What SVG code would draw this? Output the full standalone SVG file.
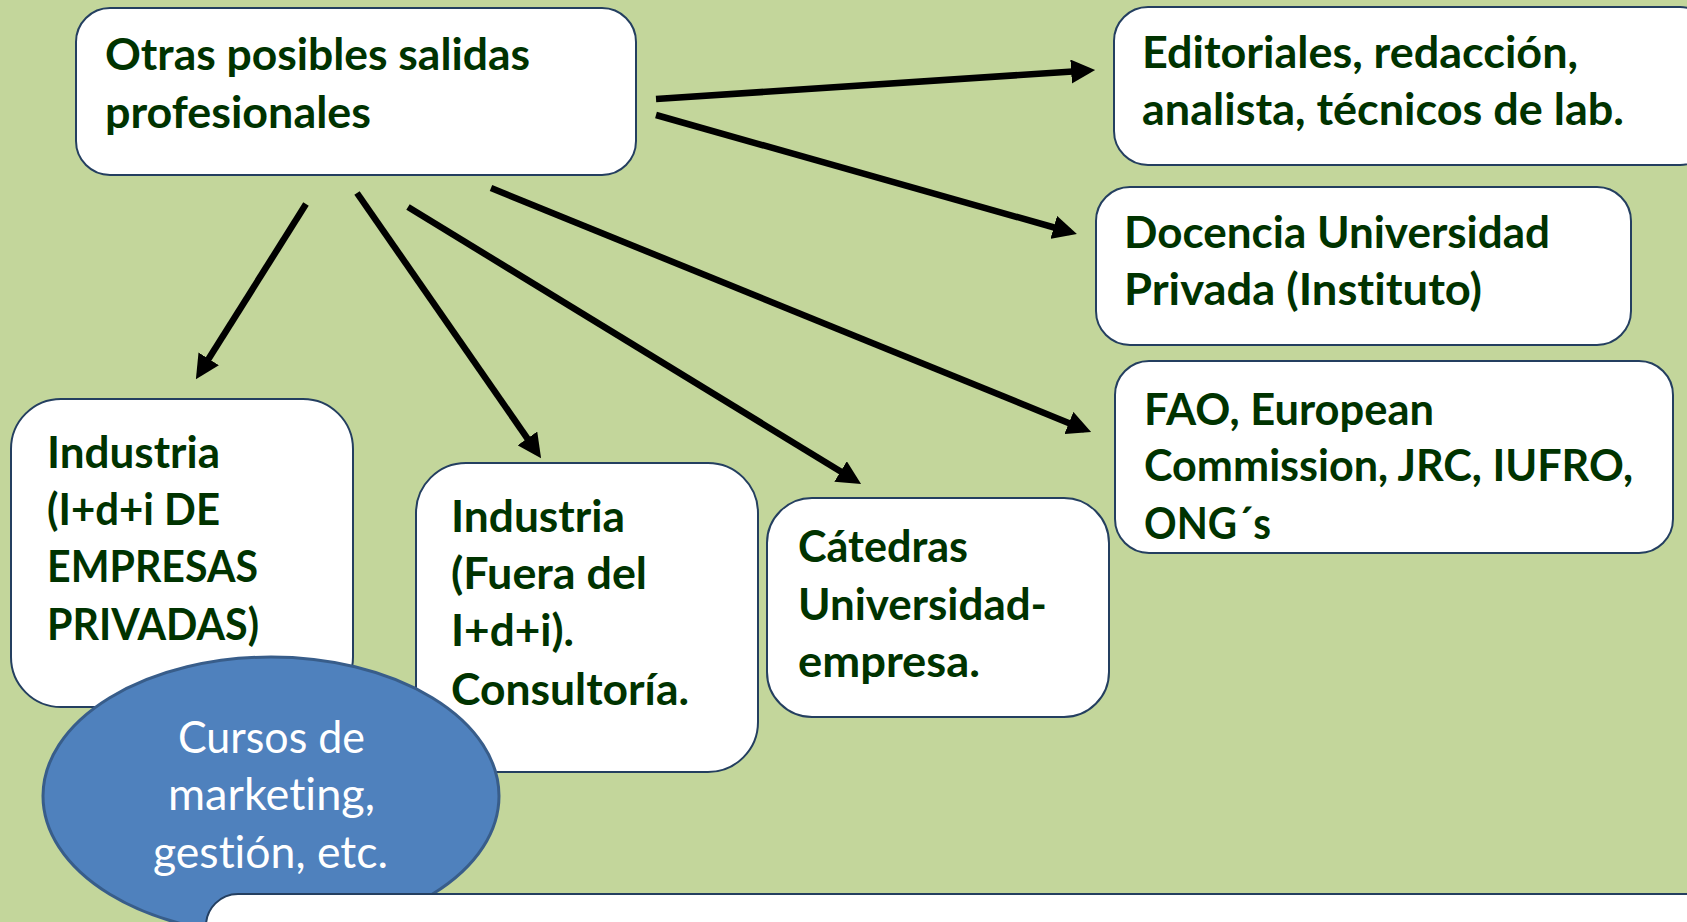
<svg xmlns="http://www.w3.org/2000/svg" width="1687" height="922" viewBox="0 0 1687 922">
<defs>
<style>
.box{fill:#ffffff;stroke:#243f60;stroke-width:2}
.t{font-family:Lato,"Open Sans","Liberation Sans",sans-serif;font-weight:bold;font-size:44px;fill:#003300;font-variant-ligatures:none;font-feature-settings:"liga" 0,"clig" 0}
.w{font-family:Lato,"Open Sans","Liberation Sans",sans-serif;font-weight:normal;font-size:44px;fill:#ffffff;font-variant-ligatures:none;font-feature-settings:"liga" 0,"clig" 0}
.c{stroke:#000000;stroke-width:6.5;fill:none;marker-end:url(#ah)}
</style>
<marker id="ah" markerUnits="strokeWidth" markerWidth="3.7" markerHeight="3.7" refX="2.6" refY="1.85" orient="auto" viewBox="0 0 3.7 3.7">
<path d="M0,0 L3.7,1.85 L0,3.7 z" fill="#000000"/>
</marker>
</defs>
<rect x="0" y="0" width="1687" height="922" fill="#c3d69b"/>

<g id="n-main">
<rect class="box" x="76" y="8" width="560" height="167" rx="34"/>
<text class="t" x="105" y="70" textLength="425" lengthAdjust="spacingAndGlyphs">Otras posibles salidas</text>
<text class="t" x="105" y="128" textLength="266" lengthAdjust="spacingAndGlyphs">profesionales</text>
</g>

<g id="n-editoriales">
<rect class="box" x="1114" y="7" width="600" height="158" rx="34"/>
<text class="t" x="1142" y="68" textLength="436" lengthAdjust="spacingAndGlyphs">Editoriales, redacción,</text>
<text class="t" x="1142" y="125" textLength="482" lengthAdjust="spacingAndGlyphs">analista, técnicos de lab.</text>
</g>

<g id="n-docencia">
<rect class="box" x="1096" y="187" width="535" height="158" rx="34"/>
<text class="t" x="1124" y="248" textLength="426" lengthAdjust="spacingAndGlyphs">Docencia Universidad</text>
<text class="t" x="1124" y="305" textLength="358" lengthAdjust="spacingAndGlyphs">Privada (Instituto)</text>
</g>

<g id="n-fao">
<rect class="box" x="1115" y="361" width="558" height="192" rx="34"/>
<text class="t" x="1144" y="425" textLength="290" lengthAdjust="spacingAndGlyphs">FAO, European</text>
<text class="t" x="1144" y="481" textLength="489" lengthAdjust="spacingAndGlyphs">Commission, JRC, IUFRO,</text>
<text class="t" x="1144" y="539" textLength="127" lengthAdjust="spacingAndGlyphs">ONG´s</text>
</g>

<g id="n-industria1">
<rect class="box" x="11" y="399" width="342" height="308" rx="50"/>
<text class="t" x="47" y="468" textLength="173" lengthAdjust="spacingAndGlyphs">Industria</text>
<text class="t" x="47" y="525" textLength="173" lengthAdjust="spacingAndGlyphs">(I+d+i DE</text>
<text class="t" x="47" y="582" textLength="211" lengthAdjust="spacingAndGlyphs">EMPRESAS</text>
<text class="t" x="47" y="640" textLength="212" lengthAdjust="spacingAndGlyphs">PRIVADAS)</text>
</g>

<g id="n-industria2">
<rect class="box" x="416" y="463" width="342" height="309" rx="50"/>
<text class="t" x="451" y="532" textLength="174" lengthAdjust="spacingAndGlyphs">Industria</text>
<text class="t" x="451" y="589" textLength="196" lengthAdjust="spacingAndGlyphs">(Fuera del</text>
<text class="t" x="451" y="646" textLength="123" lengthAdjust="spacingAndGlyphs">I+d+i).</text>
<text class="t" x="451" y="705" textLength="238" lengthAdjust="spacingAndGlyphs">Consultoría.</text>
</g>

<g id="n-catedras">
<rect class="box" x="767" y="498" width="342" height="219" rx="45"/>
<text class="t" x="798" y="562" textLength="170" lengthAdjust="spacingAndGlyphs">Cátedras</text>
<text class="t" x="798" y="620" textLength="249" lengthAdjust="spacingAndGlyphs">Universidad-</text>
<text class="t" x="798" y="677" textLength="182" lengthAdjust="spacingAndGlyphs">empresa.</text>
</g>

<g id="n-cursos">
<ellipse cx="271" cy="796" rx="228" ry="139" fill="#4f81bd" stroke="#385d8a" stroke-width="3"/>
<text class="w" x="178" y="753" textLength="187" lengthAdjust="spacingAndGlyphs">Cursos de</text>
<text class="w" x="168" y="810" textLength="207" lengthAdjust="spacingAndGlyphs">marketing,</text>
<text class="w" x="153" y="868" textLength="235" lengthAdjust="spacingAndGlyphs">gestión, etc.</text>
</g>

<g id="n-bottom">
<rect class="box" x="206" y="894" width="1520" height="80" rx="32"/>
</g>

<g id="connectors">
<line class="c" x1="656" y1="99" x2="1088" y2="70.5"/>
<line class="c" x1="656" y1="115" x2="1070" y2="232"/>
<line class="c" x1="491" y1="188" x2="1084.5" y2="429.4"/>
<line class="c" x1="408" y1="207" x2="855" y2="480.3"/>
<line class="c" x1="357" y1="193" x2="537" y2="452.3"/>
<line class="c" x1="306" y1="204" x2="199.7" y2="373.1"/>
</g>
</svg>
